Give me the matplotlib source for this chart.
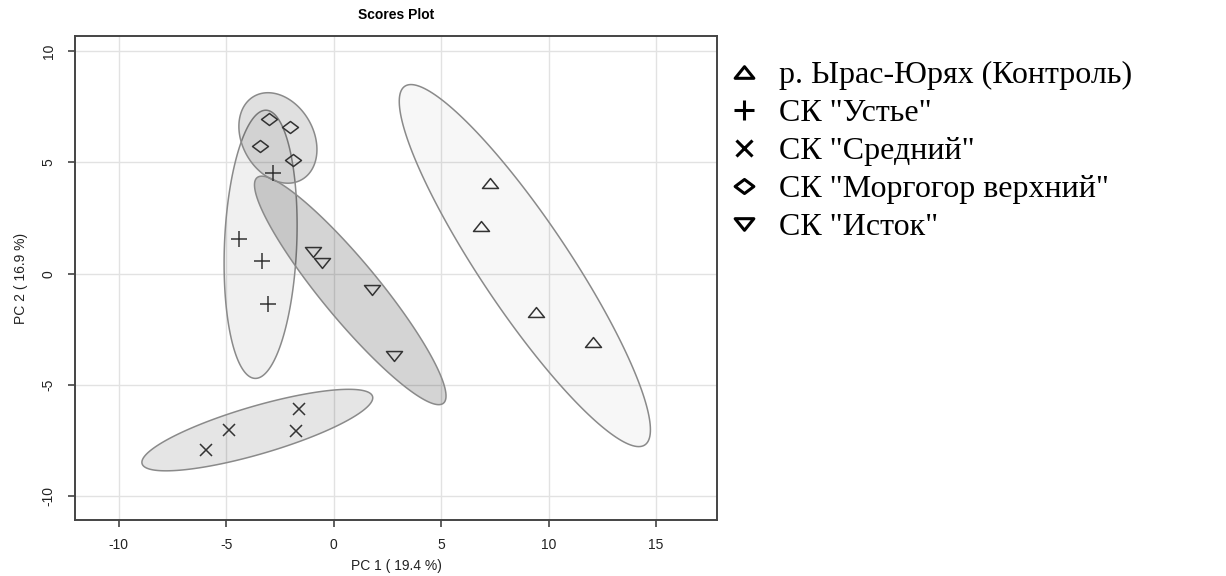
import numpy as np
import matplotlib
matplotlib.use("Agg")
import matplotlib.pyplot as plt
from matplotlib.lines import Line2D
from matplotlib.path import Path

# group names (legend order) and PCA scores
groups = ['р. Ырас-Юрях (Контроль)', 'СК "Устье"', 'СК "Средний"',
          'СК "Моргогор верхний"', 'СК "Исток"']
pc1 = [
    [7.27, 6.84, 9.41, 12.05],
    [-2.81, -4.39, -3.32, -3.07],
    [-5.95, -4.87, -1.61, -1.77],
    [-3.00, -2.03, -3.43, -1.91],
    [-0.98, -0.53, 1.80, 2.80],
]
pc2 = [
    [4.09, 2.14, -1.73, -3.05],
    [4.53, 1.54, 0.57, -1.37],
    [-7.92, -7.02, -6.09, -7.06],
    [6.95, 6.57, 5.75, 5.10],
    [0.96, 0.47, -0.73, -3.71],
]
xticks = [-10, -5, 0, 5, 10, 15]
yticks = [-10, -5, 0, 5, 10]

# R-like marker shapes (flattened triangles / diamond)
tri_up = Path([(-1, -0.62), (1, -0.62), (0, 0.62), (-1, -0.62)],
              [Path.MOVETO, Path.LINETO, Path.LINETO, Path.CLOSEPOLY])
tri_down = Path([(-1, 0.62), (1, 0.62), (0, -0.62), (-1, 0.62)],
                [Path.MOVETO, Path.LINETO, Path.LINETO, Path.CLOSEPOLY])
diamond = Path([(-1, 0), (0, 0.75), (1, 0), (0, -0.75), (-1, 0)],
               [Path.MOVETO, Path.LINETO, Path.LINETO, Path.LINETO, Path.CLOSEPOLY])
markers = [tri_up, '+', 'x', diamond, tri_down]
msizes = [11.5, 12, 9, 11.5, 11.5]
fill_alpha = [0.03, 0.06, 0.10, 0.12, 0.17]

plt.rcParams['font.family'] = ['Liberation Sans', 'DejaVu Sans']

fig = plt.figure(figsize=(12.26, 5.76), dpi=100)
ax = fig.add_axes([75 / 1226, 56 / 576, 642 / 1226, 484 / 576])

chi2_95 = 5.991  # qchisq(0.95, 2)
t = np.linspace(0, 2 * np.pi, 200)
for i in range(len(groups)):
    x = np.array(pc1[i])
    y = np.array(pc2[i])
    cov = np.cov(x, y)
    vals, vecs = np.linalg.eigh(cov)
    circ = np.vstack([np.cos(t), np.sin(t)])
    pts = vecs @ (np.sqrt(vals * chi2_95)[:, None] * circ)
    ax.fill(pts[0] + x.mean(), pts[1] + y.mean(), facecolor=(0, 0, 0, fill_alpha[i]),
            edgecolor='#8a8a8a', linewidth=1.1, zorder=2)

for i in range(len(groups)):
    ax.plot(pc1[i], pc2[i], linestyle='none', marker=markers[i], markersize=msizes[i],
            markerfacecolor='none', markeredgecolor='#333333', markeredgewidth=1.1, zorder=3)

ax.set_xlim(-12.03, 17.83)
ax.set_ylim(-11.06, 10.67)
ax.set_xticks(xticks)
ax.set_yticks(yticks)
ax.set_xticklabels([str(v) for v in xticks])
ax.set_yticklabels([str(v) for v in yticks], rotation=90, va='center')
ax.grid(True, color='#e2e2e2', linewidth=1.0, zorder=0)
ax.set_axisbelow(True)
for s in ax.spines.values():
    s.set_color('#444444')
    s.set_linewidth(1.4)
ax.tick_params(length=5, width=1.2, color='#444444', labelsize=10, labelcolor='#222222')
ax.tick_params(axis='x', pad=8)
ax.tick_params(axis='y', pad=9)

ax.set_title('Scores Plot', fontsize=10, fontweight='bold', pad=12)
ax.set_xlabel('PC 1 ( 19.4 %)', fontsize=10, color='#222222', labelpad=5)
ax.set_ylabel('PC 2 ( 16.9 %)', fontsize=10, color='#222222', labelpad=10)

handles = [Line2D([], [], linestyle='none', marker=markers[i], markersize=msizes[i] + 2,
                  markerfacecolor='none', markeredgecolor='black', markeredgewidth=2.2)
           for i in range(len(groups))]
fig.legend(handles, groups, loc='upper left', bbox_to_anchor=(728 / 1226, 1 - 61 / 576),
           frameon=False, handlelength=1.0, handletextpad=0.6, labelspacing=0.27,
           borderaxespad=0, borderpad=0,
           prop={'family': ['Liberation Serif', 'DejaVu Serif'], 'size': 23})

fig.savefig('out.png', dpi=100)
